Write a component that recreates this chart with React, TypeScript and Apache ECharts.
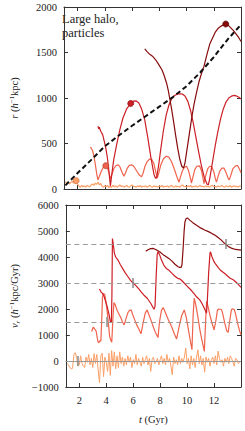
import React, { useEffect, useRef } from "react";
import * as echarts from "echarts";

// ---------- data ----------
const xTicks = [2, 4, 6, 8, 10, 12];

// top panel: r (h^-1 kpc) vs t (Gyr)
const rLight: number[][] = [
  [1.1, 80], [1.2, 60], [1.3, 75], [1.4, 55], [1.5, 70], [1.6, 85], [1.7, 65], [1.8, 80], [1.9, 91], [2.0, 55],
  [2.1, 30], [2.2, 20], [2.3, 40], [2.4, 25], [2.5, 35], [2.6, 20], [2.7, 40], [2.8, 30], [2.9, 25], [3.0, 45],
  [3.1, 55], [3.2, 40], [3.3, 65], [3.4, 50], [3.5, 75], [3.6, 45], [3.7, 60], [3.8, 30], [3.9, 20], [4.0, 35],
  [4.1, 25], [4.2, 40], [4.3, 15], [4.4, 30], [4.5, 20], [4.6, 40], [4.7, 25], [4.8, 35], [4.9, 20], [5.0, 30],
  [5.1, 45], [5.2, 25], [5.3, 35], [5.4, 20], [5.5, 30], [5.6, 40], [5.7, 25], [5.8, 20], [5.9, 35], [6.0, 45],
  [6.1, 25], [6.2, 30], [6.3, 20], [6.4, 35], [6.5, 25], [6.6, 40], [6.7, 20], [6.8, 30], [6.9, 25], [7.0, 35],
  [7.1, 20], [7.2, 30], [7.3, 40], [7.4, 25], [7.5, 20], [7.6, 35], [7.7, 25], [7.8, 30], [7.9, 20], [8.0, 35],
  [8.1, 25], [8.2, 40], [8.3, 20], [8.4, 30], [8.5, 25], [8.6, 35], [8.7, 20], [8.8, 30], [8.9, 40], [9.0, 25],
  [9.1, 20], [9.2, 35], [9.3, 25], [9.4, 30], [9.5, 20], [9.6, 35], [9.7, 45], [9.8, 25], [9.9, 30], [10.0, 20],
  [10.1, 35], [10.2, 25], [10.3, 40], [10.4, 20], [10.5, 30], [10.6, 25], [10.7, 35], [10.8, 20], [10.9, 30], [11.0, 40],
  [11.1, 25], [11.2, 30], [11.3, 20], [11.4, 35], [11.5, 25], [11.6, 30], [11.7, 20], [11.8, 35], [11.9, 40], [12.0, 25],
  [12.1, 30], [12.2, 20], [12.3, 35], [12.4, 25], [12.5, 30], [12.6, 40], [12.7, 25], [12.8, 20], [12.9, 35], [13.0, 30],
  [13.1, 25], [13.2, 40], [13.3, 20], [13.4, 30], [13.5, 35], [13.6, 25], [13.7, 30], [13.8, 20], [13.9, 35], [14.0, 30],
];

const rSalmon: number[][] = [
  [2.92, 460], [3.0, 450], [3.1, 420], [3.2, 360], [3.3, 270], [3.4, 170], [3.49, 100], [3.6, 140], [3.75, 200],
  [3.9, 240], [4.07, 256], [4.2, 230], [4.32, 170], [4.41, 115], [4.5, 150], [4.65, 220], [4.8, 255], [4.98, 265],
  [5.1, 245], [5.25, 190], [5.4, 140], [5.5, 170], [5.65, 230], [5.8, 260], [6.0, 265], [6.15, 245], [6.35, 195],
  [6.55, 150], [6.7, 135], [6.8, 170], [6.95, 250], [7.1, 300], [7.3, 330], [7.45, 325], [7.6, 280], [7.75, 180],
  [7.85, 120], [7.95, 170], [8.1, 260], [8.3, 330], [8.5, 360], [8.7, 350], [8.9, 300], [9.1, 220], [9.3, 130],
  [9.45, 75], [9.55, 130], [9.7, 200], [9.85, 240], [10.0, 250], [10.15, 200], [10.3, 110], [10.36, 65], [10.45, 120],
  [10.6, 210], [10.75, 250], [10.95, 255], [11.1, 200], [11.22, 110], [11.28, 60], [11.38, 130], [11.55, 220],
  [11.7, 250], [11.85, 245], [12.0, 190], [12.12, 110], [12.2, 75], [12.3, 130], [12.45, 200], [12.6, 230],
  [12.75, 230], [12.9, 180], [13.05, 120], [13.14, 100], [13.25, 150], [13.4, 220], [13.6, 255], [13.75, 258],
  [13.9, 215], [14.0, 178],
];

const rMid: number[][] = [
  [3.49, 690], [3.55, 660], [3.6, 680], [3.65, 650], [3.75, 620], [3.84, 597], [3.95, 530], [4.07, 450], [4.17, 360],
  [4.25, 267], [4.33, 150], [4.41, 35], [4.5, 150], [4.65, 320], [4.87, 490], [5.1, 650], [5.33, 780], [5.6, 880],
  [5.9, 940], [6.1, 965], [6.3, 968], [6.5, 945], [6.7, 880], [6.93, 760], [7.16, 560], [7.39, 340], [7.61, 160],
  [7.72, 118], [7.8, 122], [7.95, 260], [8.1, 430], [8.3, 640], [8.5, 810], [8.7, 920], [8.9, 990], [9.1, 1025],
  [9.3, 1042], [9.5, 1047], [9.7, 1043], [9.9, 1020], [10.1, 960], [10.3, 860], [10.5, 720], [10.7, 560], [10.9, 400],
  [11.1, 250], [11.3, 130], [11.5, 55], [11.6, 45], [11.7, 110], [11.9, 290], [12.1, 470], [12.3, 630], [12.5, 770],
  [12.7, 880], [12.9, 955], [13.1, 1000], [13.3, 1020], [13.5, 1028], [13.7, 1020], [13.85, 1008], [14.0, 990],
];

const rDark: number[][] = [
  [6.93, 1540], [7.1, 1510], [7.3, 1480], [7.5, 1460], [7.73, 1420], [7.95, 1370], [8.19, 1311], [8.35, 1250],
  [8.53, 1165], [8.65, 1090], [8.76, 1000], [8.9, 880], [9.05, 740], [9.2, 590], [9.35, 450], [9.5, 330], [9.65, 250],
  [9.77, 230], [9.88, 280], [10.0, 400], [10.2, 600], [10.4, 800], [10.55, 930], [10.7, 1036], [10.9, 1170],
  [11.1, 1270], [11.28, 1347], [11.5, 1480], [11.7, 1590], [11.85, 1641], [12.1, 1720], [12.35, 1770], [12.54, 1790],
  [12.75, 1808], [12.88, 1813], [13.05, 1800], [13.25, 1770], [13.45, 1740], [13.7, 1690], [13.85, 1660], [14.0, 1620],
];

const rHalo: number[][] = [
  [1.1, 40], [2.0, 175], [3.0, 320], [4.0, 470], [5.0, 585], [6.0, 695], [7.0, 800], [8.0, 905], [9.0, 1010],
  [10.0, 1130], [11.0, 1280], [12.0, 1450], [13.0, 1640], [13.9, 1790],
];

// highlighted moments [t, r]
const dotLight = [1.89, 91];
const dotSalmon = [4.07, 256];
const dotMid = [5.9, 940];
const dotDark = [12.88, 1813];

// bottom panel: v_r (h^-1 kpc/Gyr), offset per particle
const vLight: number[][] = [
  [1.1, -100], [1.2, -150], [1.3, -250], [1.4, -300], [1.5, -280], [1.6, 250], [1.7, 320], [1.8, 150], [1.9, -200], [2.0, -150],
  [2.1, 200], [2.2, -100], [2.3, -200], [2.4, -250], [2.5, 150], [2.6, -50], [2.7, 250], [2.8, -150], [2.9, 100], [3.0, -250],
  [3.1, 280], [3.2, -100], [3.3, 250], [3.4, -350], [3.5, -830], [3.6, 200], [3.7, 300], [3.8, -600], [3.9, 150], [4.0, -50],
  [4.1, -400], [4.2, 300], [4.3, -550], [4.4, 400], [4.5, -200], [4.6, 350], [4.7, -300], [4.8, 200], [4.9, -250], [5.0, 350],
  [5.1, -100], [5.2, 150], [5.3, -200], [5.4, 100], [5.5, -150], [5.6, 200], [5.7, -50], [5.8, 150], [5.9, -250], [6.0, 50],
  [6.1, -100], [6.2, 250], [6.3, -150], [6.4, 100], [6.5, -50], [6.6, -200], [6.7, 150], [6.8, -100], [6.9, 50], [7.0, 200],
  [7.1, -150], [7.2, 100], [7.3, -400], [7.4, 50], [7.5, 150], [7.6, -100], [7.7, -50], [7.8, 100], [7.9, -150], [8.0, 50],
  [8.1, 200], [8.2, -100], [8.3, 100], [8.4, -150], [8.5, 250], [8.6, -50], [8.7, 100], [8.8, -200], [8.9, -525], [9.0, 150],
  [9.1, -100], [9.2, 50], [9.3, -150], [9.4, 200], [9.5, -100], [9.6, 100], [9.7, -50], [9.8, 150], [9.9, 500], [10.0, -100],
  [10.1, 100], [10.2, -300], [10.3, 200], [10.4, -150], [10.5, 100], [10.6, -250], [10.7, 150], [10.8, 430], [10.9, -100], [11.0, 200],
  [11.1, -150], [11.2, 100], [11.3, -430], [11.4, 150], [11.5, -50], [11.6, 100], [11.7, -200], [11.8, 50], [11.9, 150], [12.0, -100],
  [12.1, 200], [12.2, -150], [12.3, 380], [12.4, 100], [12.5, -50], [12.6, 50], [12.7, -200], [12.8, 100], [12.9, -50], [13.0, 150],
  [13.1, -100], [13.2, 200], [13.3, 100], [13.4, -50], [13.5, -200], [13.6, 100], [13.7, 50], [13.8, -100], [13.9, -50], [14.0, 0],
];

const vSalmon: number[][] = [
  [2.92, 1134], [3.03, 1300], [3.12, 1250], [3.25, 1150], [3.38, 750], [3.45, 700], [3.52, 780], [3.6, 760], [3.66, 1500],
  [3.72, 2450], [3.8, 2600], [3.89, 2550], [3.97, 2300], [4.07, 1900], [4.17, 1400], [4.25, 950], [4.35, 780], [4.41, 720],
  [4.5, 1700], [4.57, 2246], [4.68, 2150], [4.8, 1950], [4.95, 1800], [5.1, 1650], [5.2, 1500], [5.33, 1390], [5.45, 1600],
  [5.6, 1850], [5.72, 1950], [5.85, 1960], [5.95, 1800], [6.1, 1600], [6.25, 1400], [6.4, 1250], [6.58, 1046], [6.75, 1500],
  [6.9, 1850], [7.04, 1966], [7.15, 1800], [7.3, 1600], [7.5, 1300], [7.65, 1100], [7.84, 900], [7.95, 1500], [8.1, 1950],
  [8.23, 2054], [8.4, 1850], [8.6, 1600], [8.87, 1300], [9.05, 1050], [9.22, 843], [9.4, 1300], [9.6, 1750], [9.79, 1966],
  [9.95, 1650], [10.1, 1200], [10.25, 750], [10.36, 433], [10.45, 1800], [10.53, 2413], [10.65, 2150], [10.8, 1700],
  [10.95, 1200], [11.1, 800], [11.28, 368], [11.38, 1600], [11.45, 2300], [11.55, 2100], [11.7, 1750], [11.85, 1450],
  [12.0, 1200], [12.12, 1500], [12.25, 1950], [12.35, 2000], [12.55, 1980], [12.65, 1800], [12.8, 1450], [12.95, 1150],
  [13.05, 1100], [13.15, 1500], [13.28, 1950], [13.34, 2003], [13.5, 1980], [13.6, 1800], [13.75, 1450], [13.9, 1150],
  [14.0, 1008],
];

const vMid: number[][] = [
  [3.49, 2770], [3.55, 2720], [3.62, 2650], [3.72, 2600], [3.83, 2500], [3.95, 2300], [4.07, 2090], [4.2, 1800],
  [4.3, 1520], [4.38, 1480], [4.42, 2500], [4.46, 4713], [4.52, 4500], [4.6, 4150], [4.7, 4000], [4.87, 3881],
  [5.05, 3700], [5.21, 3563], [5.4, 3400], [5.6, 3250], [5.8, 3100], [5.97, 3011], [6.2, 2900], [6.4, 2780], [6.6, 2650],
  [6.8, 2530], [7.04, 2413], [7.3, 2220], [7.5, 2030], [7.55, 1990], [7.62, 2100], [7.7, 3200], [7.78, 4100],
  [7.84, 4200], [7.95, 4100], [8.1, 3880], [8.27, 3690], [8.45, 3560], [8.64, 3498], [8.88, 3371], [9.1, 3260],
  [9.3, 3180], [9.45, 3160], [9.56, 3115], [9.8, 2990], [10.0, 2880], [10.25, 2750], [10.5, 2600], [10.7, 2470],
  [10.94, 2349], [11.1, 2220], [11.25, 2060], [11.39, 1900], [11.44, 1839], [11.5, 2300], [11.6, 3400], [11.7, 4150],
  [11.74, 4200], [11.85, 4000], [12.0, 3820], [12.08, 3755], [12.3, 3600], [12.5, 3480], [12.77, 3372], [13.0, 3270],
  [13.2, 3180], [13.45, 3115], [13.7, 3000], [13.85, 2920], [14.0, 2835],
];

const vDark: number[][] = [
  [6.93, 4220], [7.1, 4280], [7.3, 4320], [7.5, 4330], [7.7, 4280], [7.96, 4200], [8.2, 4100], [8.4, 4030], [8.64, 3946],
  [8.9, 3830], [9.1, 3720], [9.33, 3625], [9.45, 3600], [9.56, 3600], [9.62, 3700], [9.7, 4300], [9.78, 5000],
  [9.84, 5350], [9.92, 5470], [10.02, 5503], [10.2, 5420], [10.4, 5330], [10.7, 5222], [11.0, 5120], [11.3, 5040],
  [11.62, 4966], [11.85, 4900], [12.08, 4839], [12.3, 4750], [12.54, 4648], [12.7, 4560], [12.88, 4483], [13.1, 4390],
  [13.34, 4330], [13.6, 4290], [14.0, 4264],
];

// offset reference levels (dashed) and zero line
const offsetLevels = [4500, 3000, 1500];
const zeroLevel = 0;
// event markers [t, level]
const markerTimes = [1.9, 4.05, 5.97, 12.85];
const markerLevels = [0, 1500, 3000, 4500];
const markerHalf = 190;

// ---------- styles ----------
const colLight = "#fc9f66";
const colSalmon = "#ef634c";
const colMid = "#cc1f26";
const colDark = "#870b0b";
const FONT = "Liberation Serif";
const axisCol = "#333";

export default function App() {
  const ref = useRef<HTMLDivElement>(null);

  useEffect(() => {
    document.body.style.margin = "0";
    const chart = echarts.init(ref.current!, null, { renderer: "svg" });

    const line = { color: axisCol, width: 1 };
    const tick = { show: true, inside: true, length: 4, lineStyle: line };
    const labelStyle = { fontFamily: FONT, fontSize: 10.5, color: "#222" };
    const nameStyle = {
      fontFamily: FONT,
      fontSize: 10.5,
      color: "#222",
      lineHeight: 13,
      rich: {
        it: { fontFamily: FONT, fontSize: 10.5, fontStyle: "italic", color: "#222", lineHeight: 13 },
        sup: { fontFamily: FONT, fontSize: 7, color: "#222", verticalAlign: "top", lineHeight: 9 },
        sub: { fontFamily: FONT, fontSize: 7, fontStyle: "italic", color: "#222", verticalAlign: "bottom", lineHeight: 9 },
      },
    };

    const xBase = (grid: number, position: string, labels: boolean) => ({
      type: "value",
      gridIndex: grid,
      position,
      min: 1,
      max: 14,
      axisLine: { show: true, onZero: false, lineStyle: line },
      axisTick: { ...tick, customValues: xTicks },
      axisLabel: labels
        ? { show: true, customValues: xTicks, margin: 8, ...labelStyle }
        : { show: false },
      splitLine: { show: false },
    });

    const yBase = (grid: number, position: string, min: number, max: number, interval: number, labels: boolean) => ({
      type: "value",
      gridIndex: grid,
      position,
      min,
      max,
      interval,
      axisLine: { show: true, onZero: false, lineStyle: line },
      axisTick: tick,
      axisLabel: labels
        ? {
            show: true,
            margin: 7,
            ...labelStyle,
            formatter: (v: number) => (v < 0 ? "\u2212" + Math.abs(v) : String(v)),
          }
        : { show: false },
      splitLine: { show: false },
    });

    const curve = (data: number[][], color: string, xi: number, yi: number, z = 3, width = 1.2) => ({
      type: "line",
      xAxisIndex: xi,
      yAxisIndex: yi,
      data,
      showSymbol: false,
      symbol: "none",
      lineStyle: { color, width },
      z,
      silent: true,
    });

    const dot = (p: number[], color: string, border: string) => ({
      type: "scatter",
      xAxisIndex: 0,
      yAxisIndex: 0,
      data: [p],
      symbol: "circle",
      symbolSize: 6,
      itemStyle: { color, borderColor: border, borderWidth: 0.7, opacity: 1 },
      z: 6,
      silent: true,
    });

    const option: any = {
      animation: false,
      backgroundColor: "#fff",
      textStyle: { fontFamily: FONT },
      grid: [
        { left: 52, top: 7, width: 189, height: 182 },
        { left: 52, top: 205, width: 189, height: 182 },
      ],
      xAxis: [
        xBase(0, "bottom", false),
        xBase(0, "top", false),
        {
          ...xBase(1, "bottom", true),
          name: "{it|t} (Gyr)",
          nameLocation: "middle",
          nameGap: 26,
          nameTextStyle: nameStyle,
        },
        xBase(1, "top", false),
      ],
      yAxis: [
        {
          ...yBase(0, "left", 0, 2000, 500, true),
          name: "{it|r} ({it|h}{sup|\u22121}kpc)",
          nameLocation: "middle",
          nameRotate: 90,
          nameGap: 43,
          nameTextStyle: nameStyle,
        },
        yBase(0, "right", 0, 2000, 500, false),
        {
          ...yBase(1, "left", -1000, 6000, 1000, true),
          name: "{it|v}{sub|r} ({it|h}{sup|\u22121}kpc/Gyr)",
          nameLocation: "middle",
          nameRotate: 90,
          nameGap: 43,
          nameTextStyle: nameStyle,
        },
        yBase(1, "right", -1000, 6000, 1000, false),
      ],
      series: [
        {
          type: "line",
          xAxisIndex: 2,
          yAxisIndex: 2,
          data: [],
          z: 1,
          silent: true,
          markLine: {
            silent: true,
            symbol: "none",
            label: { show: false },
            animation: false,
            data: [
              ...offsetLevels.map((lv) => ({
                yAxis: lv,
                lineStyle: { color: "#9a9a9a", width: 1.2, type: [5, 3.5] },
              })),
              { yAxis: zeroLevel, lineStyle: { color: "#9a9a9a", width: 1, type: "solid" } },
            ],
          },
        },
        curve(rLight, colLight, 0, 0, 3),
        curve(rSalmon, colSalmon, 0, 0, 3),
        curve(rMid, colMid, 0, 0, 3),
        curve(rDark, colDark, 0, 0, 3),
        {
          ...curve(rHalo, "#111", 0, 0, 4, 2),
          lineStyle: { color: "#111", width: 2, type: [5, 3] },
        },
        dot(dotLight, colLight, "#c8703e"),
        dot(dotSalmon, colSalmon, "#b04030"),
        dot(dotMid, colMid, "#8a1010"),
        dot(dotDark, colDark, "#4a0505"),
        curve(vLight, colLight, 2, 2, 3, 1),
        curve(vSalmon, colSalmon, 2, 2, 3),
        curve(vMid, colMid, 2, 2, 3),
        curve(vDark, colDark, 2, 2, 3),
        {
          type: "line",
          xAxisIndex: 2,
          yAxisIndex: 2,
          data: [],
          z: 5,
          silent: true,
          markLine: {
            silent: true,
            symbol: "none",
            label: { show: false },
            animation: false,
            lineStyle: { color: "#8a8a8a", width: 1.5, type: "solid" },
            data: markerTimes.map((t, i) => [
              { coord: [t, markerLevels[i] - markerHalf] },
              { coord: [t, markerLevels[i] + markerHalf] },
            ]),
          },
        },
      ],
      graphic: [
        {
          type: "text",
          left: 62,
          top: 12,
          style: {
            text: "Large halo,\nparticles",
            fontFamily: FONT,
            fontSize: 12.5,
            lineHeight: 14,
            fill: "#222",
          },
        },
      ],
    };

    chart.setOption(option);
    return () => chart.dispose();
  }, []);

  return <div ref={ref} style={{ width: 245, height: 431 }} />;
}
